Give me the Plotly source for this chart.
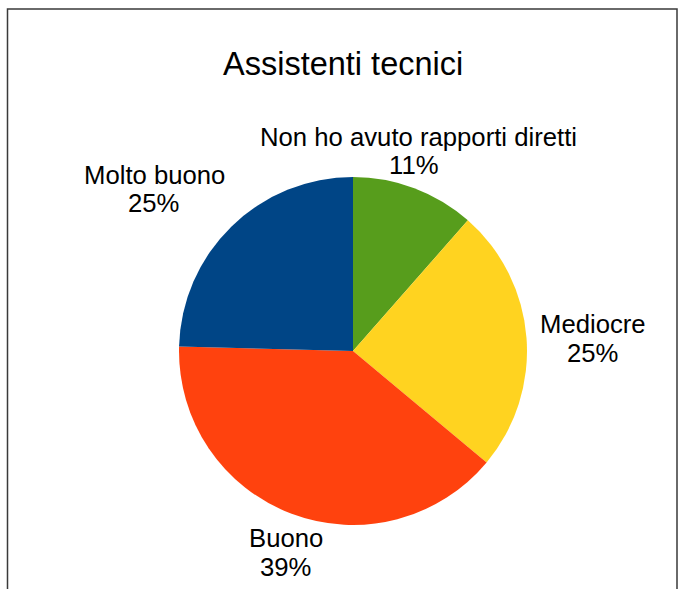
import plotly.graph_objects as go

# Data
categories = ["Non ho avuto rapporti diretti", "Mediocre", "Buono", "Molto buono"]
counts = [7, 15, 24, 15]
colors = ["#579D1C", "#FFD320", "#FF420E", "#004586"]
title_text = "Assistenti tecnici"

W, H = 679, 589
total = sum(counts)
pct_text = [f"{round(v / total * 100)}%" for v in counts]

# Layout positions (pixel centres of label lines)
label_pos = [(418, 137), (593, 324), (286, 538), (154, 175)]
pct_pos = [(414, 165), (592, 353), (285, 567), (153, 203)]

def px(x):
    return x / W

def py(y):
    return 1 - y / H

cx, cy, r = 353, 351, 174

fig = go.Figure(
    go.Pie(
        labels=categories,
        values=counts,
        sort=False,
        direction="clockwise",
        rotation=0,
        marker=dict(colors=colors, line=dict(width=0)),
        textinfo="none",
        hoverinfo="label+percent",
        showlegend=False,
        domain=dict(x=[px(cx - r), px(cx + r)], y=[py(cy + r), py(cy - r)]),
    )
)

font = dict(family="Liberation Sans, Arial, sans-serif", size=25.7, color="#000000")
annotations = []
for name, p, lp, pp in zip(categories, pct_text, label_pos, pct_pos):
    annotations.append(dict(text=name, x=px(lp[0]), y=py(lp[1]), xref="paper", yref="paper",
                            xanchor="center", yanchor="middle", showarrow=False, font=font))
    annotations.append(dict(text=p, x=px(pp[0]), y=py(pp[1]), xref="paper", yref="paper",
                            xanchor="center", yanchor="middle", showarrow=False, font=font))

annotations.append(dict(text=title_text, x=px(342.5), y=py(64), xref="paper", yref="paper",
                        xanchor="center", yanchor="middle", showarrow=False,
                        font=dict(family="Liberation Sans, Arial, sans-serif", size=32.5, color="#000000")))

fig.update_layout(
    width=W,
    height=H,
    margin=dict(l=0, r=0, t=0, b=0),
    paper_bgcolor="white",
    plot_bgcolor="white",
    annotations=annotations,
    shapes=[dict(type="rect", xref="paper", yref="paper",
                 x0=px(7.5), x1=px(677), y0=-0.05, y1=py(9),
                 line=dict(color="#3a3a3a", width=1.5), fillcolor="rgba(0,0,0,0)")],
)

fig.write_html(
    "out.html",
    config={"displayModeBar": False},
    post_script="document.body.style.margin='0';document.body.style.overflow='hidden';",
)
